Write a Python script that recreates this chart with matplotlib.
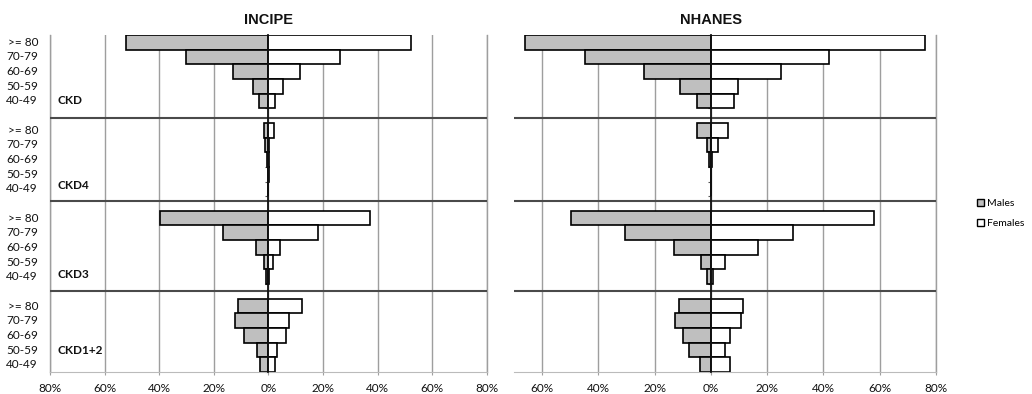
import matplotlib
matplotlib.use("Agg")
import matplotlib.pyplot as plt
from matplotlib.patches import Patch
from matplotlib.transforms import blended_transform_factory
import numpy as np

# ---------------- data ----------------
groups = ["CKD", "CKD4", "CKD3", "CKD1+2"]
ages = [">= 80", "70-79", "60-69", "50-59", "40-49"]
panels = ["INCIPE", "NHANES"]

# percentages, age order as in `ages`, groups order as in `groups`
incipe_males = [
    [52.2, 30.3, 13.1, 5.7, 3.4],
    [1.5, 1.3, 0.5, 0.1, 0.05],
    [39.7, 16.7, 4.5, 1.5, 0.8],
    [11.1, 12.2, 8.8, 4.1, 3.0],
]
incipe_females = [
    [52.4, 26.3, 11.6, 5.3, 2.6],
    [2.2, 0.3, 0.4, 0.1, 0.05],
    [37.3, 18.3, 4.3, 1.8, 0.4],
    [12.4, 7.7, 6.5, 3.3, 2.5],
]
nhanes_males = [
    [66.2, 44.8, 23.7, 11.1, 5.0],
    [5.0, 1.2, 0.7, 0.05, 0.05],
    [49.6, 30.6, 13.0, 3.4, 1.2],
    [11.5, 12.6, 10.0, 7.8, 4.0],
]
nhanes_females = [
    [76.3, 42.1, 24.8, 9.8, 8.3],
    [6.2, 2.4, 0.5, 0.05, 0.05],
    [58.1, 29.1, 16.8, 5.1, 0.8],
    [11.3, 10.7, 6.8, 5.1, 6.8],
]
xticks_left = [-80, -60, -40, -20, 0, 20, 40, 60, 80]
xticks_right = [-60, -40, -20, 0, 20, 40, 60, 80]

# ---------------- style ----------------
W, H = 1032, 394
fig = plt.figure(figsize=(W / 100, H / 100), dpi=100)
fig.patch.set_facecolor("white")

MALE_C = "#bfbfbf"
GRID_C = "#9e9e9e"
SEP_C = "#4a4a4a"
TICK_FONT = ["Lato", "DejaVu Sans"]
TITLE_FONT = ["Liberation Sans", "DejaVu Sans"]
TXT_C = "#111111"

top_px, bot_px = 35.0, 372.0
n_slots = len(groups) * (len(ages) + 1) - 1
y_bottom = 1 - bot_px / H
y_height = (bot_px - top_px) / H

ax_specs = [
    (50.0, 486.7, (-80, 80), xticks_left, incipe_males, incipe_females),
    (514.0, 935.8, (-70, 80), xticks_right, nhanes_males, nhanes_females),
]

sep_positions = [5.17, 10.81, 16.94]
group_label_y = [4.0, 9.8, 15.85, 21.0]

axes = []
for k, (x0, x1, xlim, xt, males, females) in enumerate(ax_specs):
    ax = fig.add_axes([x0 / W, y_bottom, (x1 - x0) / W, y_height])
    axes.append(ax)
    ax.set_axisbelow(True)
    pos = []
    mvals = []
    fvals = []
    for g in range(len(groups)):
        for a in range(len(ages)):
            pos.append(g * (len(ages) + 1) + a)
            mvals.append(males[g][a])
            fvals.append(females[g][a])
    pos = np.array(pos)
    ax.barh(pos, -np.array(mvals), height=1.0, color=MALE_C,
            edgecolor="black", linewidth=1.2, zorder=2)
    ax.barh(pos, np.array(fvals), height=1.0, color="white",
            edgecolor="black", linewidth=1.2, zorder=2)

    ax.set_xlim(*xlim)
    ax.set_ylim(n_slots - 0.5, -0.5)
    ax.set_xticks(xt)
    ax.set_xticklabels([f"{abs(v)}%" for v in xt], fontsize=8.5,
                       family=TICK_FONT, color=TXT_C)
    ax.grid(axis="x", color=GRID_C, linewidth=1.0)
    ax.tick_params(axis="x", length=2.5, color=GRID_C, pad=5.5, width=0.8)

    # center (category) axis at 0
    ax.spines["left"].set_position(("data", 0))
    ax.spines["left"].set_color("#111111")
    ax.spines["left"].set_linewidth(1.3)
    ax.spines["left"].set_zorder(3)
    ax.set_yticks(np.arange(-0.5, n_slots, 1.0))
    ax.set_yticklabels([])
    ax.tick_params(axis="y", length=2.5, color="#555555", width=0.8)
    ax.spines["top"].set_visible(False)
    ax.spines["right"].set_color(GRID_C)
    ax.spines["right"].set_linewidth(1.0)
    ax.spines["bottom"].set_color("#bbbbbb")
    ax.spines["bottom"].set_linewidth(0.8)

    for sp in sep_positions:
        ax.axhline(sp, color=SEP_C, linewidth=1.5, zorder=3)

    if k == 0:
        ax.axvline(xlim[0], color=GRID_C, linewidth=1.0, clip_on=False, zorder=0.5)
        tr = ax.get_yaxis_transform()
        for p in pos:
            ax.text(-12.0 / (x1 - x0), p, ages[p % (len(ages) + 1)],
                    transform=tr, ha="right", va="center",
                    fontsize=8.5, family=TICK_FONT, color=TXT_C)
        for g, gy in enumerate(group_label_y):
            ax.text(8.0 / (x1 - x0), gy, groups[g], transform=tr,
                    ha="left", va="center", fontsize=8.5, fontweight="bold",
                    family=TICK_FONT, color=TXT_C, zorder=4)

    ttr = blended_transform_factory(ax.transData, fig.transFigure)
    ax.text(0, 1 - 19.5 / H, panels[k], transform=ttr, ha="center",
            va="center", fontsize=10.5, fontweight="bold", family=TITLE_FONT,
            color=TXT_C)

handles = [Patch(facecolor=MALE_C, edgecolor="black", linewidth=1.0),
           Patch(facecolor="white", edgecolor="black", linewidth=1.0)]
fig.legend(handles, ["Males", "Females"], loc="upper left",
           bbox_to_anchor=(977 / W, 1 - 199 / H), frameon=False,
           handlelength=0.7, handleheight=0.7, handletextpad=0.3,
           labelspacing=1.0, borderpad=0, borderaxespad=0,
           prop={"family": TICK_FONT, "size": 7.5})

fig.savefig("out.png", dpi=100, facecolor="white")
